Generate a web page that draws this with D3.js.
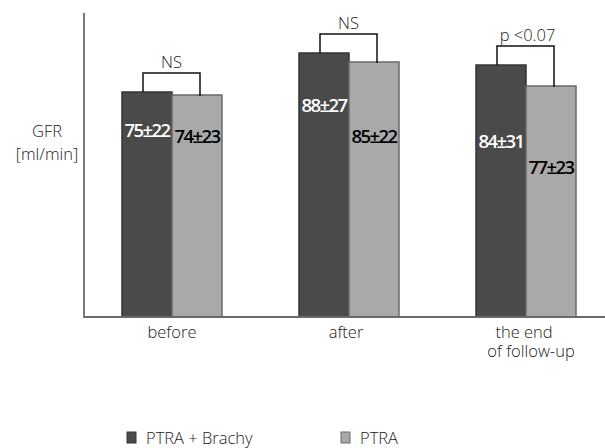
<!DOCTYPE html>
<html>
<head>
<meta charset="utf-8">
<script src="https://cdn.jsdelivr.net/npm/d3@7"></script>
<style>
  html, body { margin: 0; padding: 0; background: #fff; }
  svg { display: block; }
  text { font-family: "Open Sans", "Noto Sans", sans-serif; }
</style>
</head>
<body>
<svg id="chart" width="605" height="448"></svg>
<script>
// ---- data ----
const categories = ["before", "after", "the end\nof follow-up"];
const seriesNames = ["PTRA + Brachy", "PTRA"];
const brachyMean = [75, 88, 84];
const brachySD   = [22, 27, 31];
const ptraMean   = [74, 85, 77];
const ptraSD     = [23, 22, 23];
const significance = ["NS", "NS", "p <0.07"];
const yLabel = ["GFR", "[ml/min]"];

// ---- layout / style (not data) ----
const labelDyDark  = [45, 59, 83];
const labelDyLight = [48, 81, 88];
const colors = { fill: ["#4a4a4a", "#a9a9a9"], stroke: ["#353535", "#6a6a6a"] };
const textColor = "#222";

const svg = d3.select("#chart");
const baseY = 317, topY = 13, axisX = 84;

const y = d3.scaleLinear().domain([0, 101]).range([baseY, topY + 1]);
const x0 = d3.scaleBand().domain(categories).range([83.5, 614.5]).padding(0);
const bw = x0.bandwidth();
const x1 = d3.scaleBand().domain(seriesNames).range([bw / 2 - 50, bw / 2 + 50]).padding(0);

const rows = categories.map((c, i) => ({
  cat: c, i,
  vals: [
    { s: seriesNames[0], v: brachyMean[i], sd: brachySD[i], k: 0 },
    { s: seriesNames[1], v: ptraMean[i], sd: ptraSD[i], k: 1 }
  ]
}));

// bars
const g = svg.append("g");
const grp = g.selectAll("g.grp").data(rows).join("g")
  .attr("class", "grp")
  .attr("transform", d => `translate(${x0(d.cat)},0)`);

grp.selectAll("rect").data(d => d.vals).join("rect")
  .attr("x", d => x1(d.s))
  .attr("y", d => y(d.v))
  .attr("width", x1.bandwidth())
  .attr("height", d => baseY - y(d.v))
  .attr("fill", d => colors.fill[d.k])
  .attr("stroke", d => colors.stroke[d.k])
  .attr("stroke-width", 1.5);

// value labels
grp.each(function(d) {
  const sel = d3.select(this);
  d.vals.forEach(v => {
    const dy = v.k === 0 ? labelDyDark[d.i] : labelDyLight[d.i];
    sel.append("text")
      .attr("x", x1(v.s) + x1.bandwidth() / 2)
      .attr("y", y(v.v) + dy)
      .attr("text-anchor", "middle")
      .attr("font-size", 18.5)
      .attr("font-weight", 600)
      .attr("letter-spacing", -1.6)
      .attr("fill", v.k === 0 ? "#ffffff" : "#000000")
      .text(`${v.v}±${v.sd}`);
  });
});

// axes lines
const xAxis = d3.axisBottom(x0).tickSize(0).tickFormat("");
svg.append("g").attr("transform", `translate(0,${baseY})`).call(xAxis)
  .call(s => s.select(".domain").attr("stroke", "#6a6a6a").attr("stroke-width", 2)
    .attr("d", `M${axisX},0H605`));
const yAxis = d3.axisLeft(y).tickSize(0).tickValues([]);
svg.append("g").attr("transform", `translate(${axisX},0)`).call(yAxis)
  .call(s => s.select(".domain").attr("stroke", "#7a7a7a").attr("stroke-width", 2)
    .attr("d", `M0,${topY}V${baseY + 1}`));

// category labels
rows.forEach((r, i) => {
  const lines = r.cat.split("\n");
  const cx = x0(r.cat) + bw / 2;
  lines.forEach((ln, j) => {
    svg.append("text")
      .attr("x", cx + (lines.length > 1 ? (j === 0 ? -2 : 5) : (i === 1 ? -3 : 0)))
      .attr("y", 338 + j * 19)
      .attr("text-anchor", "middle")
      .attr("font-size", 16.5).attr("font-weight", 300)
      .attr("fill", textColor)
      .text(ln);
  });
});

// significance brackets
rows.forEach((r, i) => {
  const ox = x0(r.cat);
  const xl = ox + x1(seriesNames[0]) + x1.bandwidth() / 2 - 4;
  const xr = ox + x1(seriesNames[1]) + x1.bandwidth() / 2 + 3;
  const yl = y(r.vals[0].v), yr = y(r.vals[1].v);
  const yt = Math.min(yl, yr) - 19;
  svg.append("path")
    .attr("d", `M${xl},${yl}V${yt}H${xr}V${yr + 1}`)
    .attr("fill", "none").attr("stroke", "#111").attr("stroke-width", 1.5);
  svg.append("text")
    .attr("x", (xl + xr) / 2 + (i === 2 ? 2 : 0)).attr("y", yt - 5)
    .attr("text-anchor", "middle")
    .attr("font-size", 16.5).attr("font-weight", 300)
    .attr("fill", textColor)
    .text(significance[i]);
});

// y label
yLabel.forEach((t, j) => {
  svg.append("text").attr("x", 47).attr("y", 137 + j * 23)
    .attr("text-anchor", "middle")
    .attr("font-size", 16.5).attr("font-weight", 300).attr("fill", textColor)
    .text(t);
});

// legend
const legX = [127, 341];
seriesNames.forEach((s, k) => {
  svg.append("rect").attr("x", legX[k]).attr("y", 432).attr("width", 9).attr("height", 11)
    .attr("fill", colors.fill[k]).attr("stroke", colors.stroke[k]).attr("stroke-width", 1);
  svg.append("text").attr("x", legX[k] + 19).attr("y", 444)
    .attr("font-size", 16.5).attr("font-weight", 300).attr("fill", textColor)
    .text(s);
});
</script>
</body>
</html>
